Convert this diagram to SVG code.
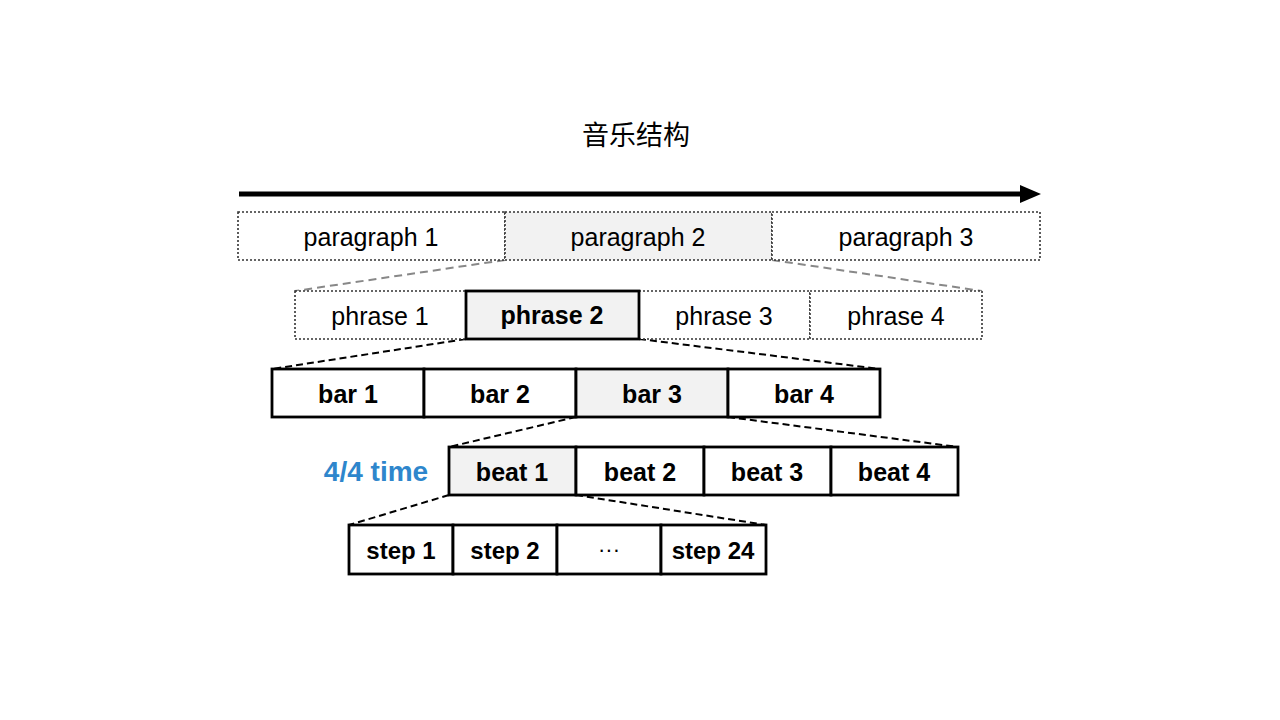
<svg xmlns="http://www.w3.org/2000/svg" width="1280" height="720" viewBox="0 0 1280 720">
<defs>
<style>
.t{font-family:"Liberation Sans",Arial,sans-serif;font-size:25px;fill:#000;text-anchor:middle}
.b{font-weight:bold}
.dot{fill:#fff;stroke:#333;stroke-width:1.6;stroke-dasharray:2 2}
.sol{fill:#fff;stroke:#000;stroke-width:2.8}
.g{fill:#f2f2f2}
.cg{stroke:#888;stroke-width:2;stroke-dasharray:8 5;fill:none}
.cb{stroke:#000;stroke-width:2;stroke-dasharray:7 4;fill:none}
</style>
</defs>
<rect width="1280" height="720" fill="#fff"/>
<text x="636" y="145" style="font-family:'Noto Sans CJK SC',sans-serif;font-size:27px;text-anchor:middle;fill:#000">音乐结构</text>
<g id="timeline">
<line x1="239" y1="194" x2="1022" y2="194" stroke="#000" stroke-width="5"/>
<polygon points="1020,185 1041,194 1020,203" fill="#000"/>
</g>
<g id="connectors">
<line class="cg" x1="505" y1="260" x2="295" y2="291"/>
<line class="cg" x1="772" y1="260" x2="982" y2="291"/>
<line class="cb" x1="466" y1="339" x2="272" y2="369"/>
<line class="cb" x1="639" y1="339" x2="880" y2="369"/>
<line class="cb" x1="576" y1="417" x2="449" y2="447"/>
<line class="cb" x1="728" y1="417" x2="958" y2="447"/>
<line class="cb" x1="449" y1="495" x2="349" y2="525"/>
<line class="cb" x1="576" y1="495" x2="766" y2="525"/>
</g>
<g id="paragraph1"><rect class="dot" x="238" y="212" width="267" height="48"/><text class="t" x="371" y="246">paragraph 1</text></g>
<g id="paragraph2"><rect class="dot g" x="505" y="212" width="267" height="48"/><text class="t" x="638" y="246">paragraph 2</text></g>
<g id="paragraph3"><rect class="dot" x="772" y="212" width="268" height="48"/><text class="t" x="906" y="246">paragraph 3</text></g>
<g id="phrase1"><rect class="dot" x="295" y="291" width="171" height="48"/><text class="t" x="380" y="325">phrase 1</text></g>
<g id="phrase3"><rect class="dot" x="639" y="291" width="171" height="48"/><text class="t" x="724" y="325">phrase 3</text></g>
<g id="phrase4"><rect class="dot" x="810" y="291" width="172" height="48"/><text class="t" x="896" y="325">phrase 4</text></g>
<g id="phrase2"><rect class="sol g" x="466" y="291" width="173" height="48" stroke-width="3"/><text class="t b" x="552" y="324">phrase 2</text></g>
<g id="bar1"><rect class="sol" x="272" y="369" width="152" height="48"/><text class="t b" x="348" y="403">bar 1</text></g>
<g id="bar2"><rect class="sol" x="424" y="369" width="152" height="48"/><text class="t b" x="500" y="403">bar 2</text></g>
<g id="bar3"><rect class="sol g" x="576" y="369" width="152" height="48"/><text class="t b" x="652" y="403">bar 3</text></g>
<g id="bar4"><rect class="sol" x="728" y="369" width="152" height="48"/><text class="t b" x="804" y="403">bar 4</text></g>
<g id="time-label"><text class="t b" x="376" y="481" style="fill:#2E86CC;font-size:28px">4/4 time</text></g>
<g id="beat1"><rect class="sol g" x="449" y="447" width="127" height="48"/><text class="t b" x="512" y="481">beat 1</text></g>
<g id="beat2"><rect class="sol" x="576" y="447" width="128" height="48"/><text class="t b" x="640" y="481">beat 2</text></g>
<g id="beat3"><rect class="sol" x="704" y="447" width="127" height="48"/><text class="t b" x="767" y="481">beat 3</text></g>
<g id="beat4"><rect class="sol" x="831" y="447" width="127" height="48"/><text class="t b" x="894" y="481">beat 4</text></g>
<g id="step1"><rect class="sol" x="349" y="525" width="104" height="49"/><text class="t b" x="401" y="559" style="font-size:24px">step 1</text></g>
<g id="step2"><rect class="sol" x="453" y="525" width="104" height="49"/><text class="t b" x="505" y="559" style="font-size:24px">step 2</text></g>
<g id="stepdots"><rect class="sol" x="557" y="525" width="104" height="49"/><text class="t" x="609" y="557" style="font-size:22px">···</text></g>
<g id="step24"><rect class="sol" x="661" y="525" width="105" height="49"/><text class="t b" x="713" y="559" style="font-size:24px">step 24</text></g>
</svg>
